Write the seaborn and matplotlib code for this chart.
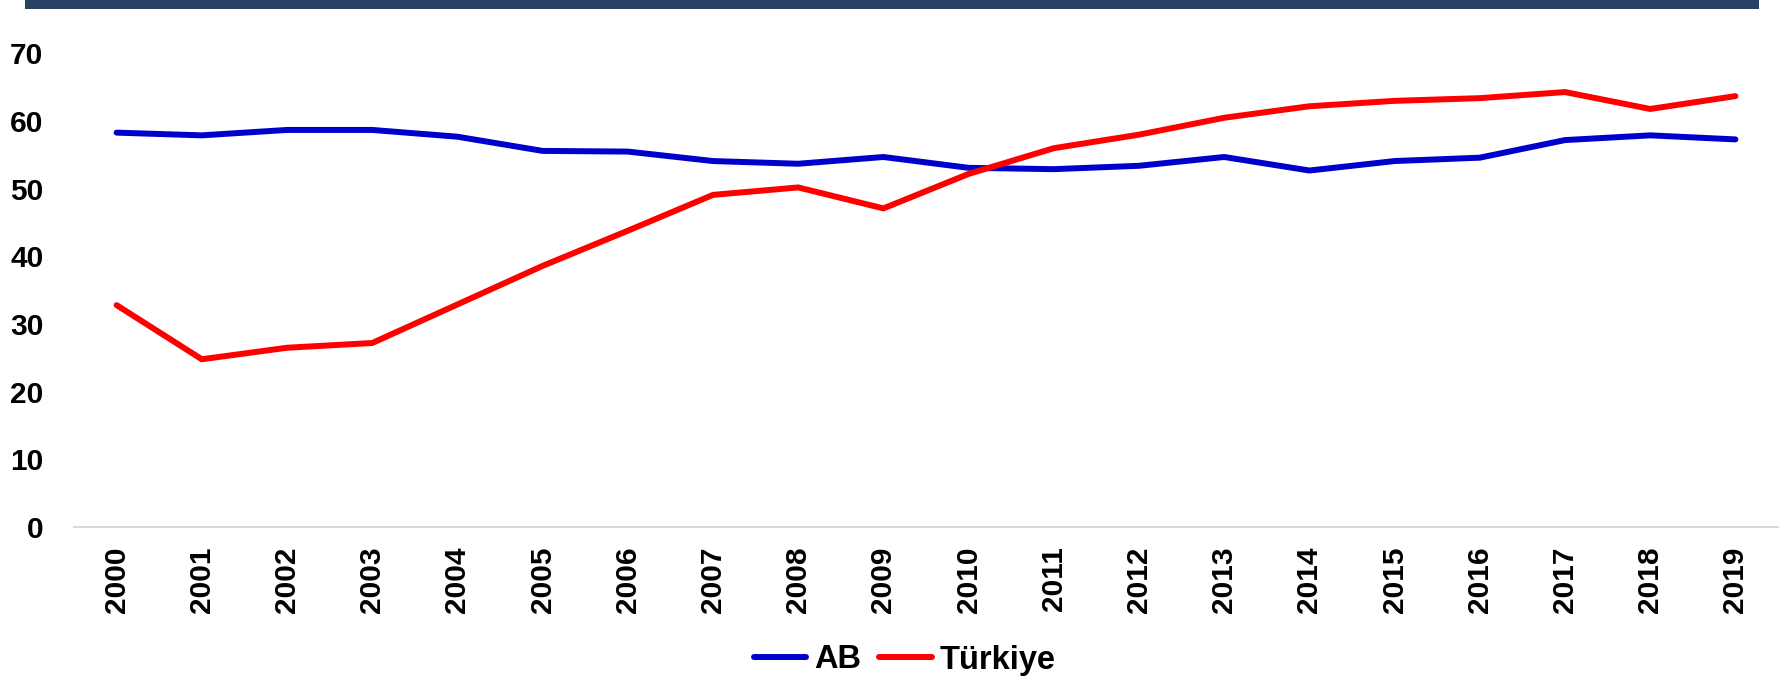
import matplotlib
matplotlib.use("Agg")
import matplotlib.pyplot as plt
import seaborn as sns
import pandas as pd
from matplotlib.patches import Rectangle

years = list(range(2000, 2020))
ab = [58.3, 57.9, 58.7, 58.7, 57.7, 55.6, 55.5, 54.1, 53.7, 54.7,
      53.1, 52.9, 53.4, 54.7, 52.7, 54.1, 54.6, 57.2, 57.9, 57.3]
turkiye = [32.8, 24.8, 26.5, 27.2, 32.9, 38.6, 43.8, 49.1, 50.2, 47.1,
           52.2, 56.0, 58.0, 60.5, 62.2, 63.0, 63.4, 64.3, 61.8, 63.7]
series_names = ["AB", "Türkiye"]
series_colors = ["#0000CC", "#FF0000"]
y_ticks = [0, 10, 20, 30, 40, 50, 60, 70]

df = pd.DataFrame({"Yıl": years * 2,
                   "Değer": ab + turkiye,
                   "Seri": [series_names[0]] * len(years) + [series_names[1]] * len(years)})

sns.set_theme(style="white")
plt.rcParams["font.family"] = ["Liberation Sans", "DejaVu Sans"]
plt.rcParams["font.weight"] = "bold"
plt.rcParams["text.color"] = "black"

fig = plt.figure(figsize=(17.85, 6.82), dpi=100)
ax = fig.add_axes([74 / 1785, 1 - 527 / 682, (1778 - 74) / 1785, (527 - 53.5) / 682])

sns.lineplot(data=df, x="Yıl", y="Değer", hue="Seri", palette=series_colors,
             linewidth=4.3, ax=ax, legend=False, solid_capstyle="round")

ax.set_xlim(years[0] - 0.5, years[-1] + 0.5)
ax.set_ylim(0, 70)
ax.set_xticks(years)
ax.set_xticklabels([str(y) for y in years], rotation=90, fontsize=21.5, fontweight="bold")
ax.set_yticks(y_ticks)
ax.set_yticklabels([str(v) for v in y_ticks], fontsize=21.5, fontweight="bold")
ax.tick_params(axis="both", length=0, colors="black")
ax.tick_params(axis="x", pad=14)
ax.tick_params(axis="y", pad=22)
ax.set_xlabel("")
ax.set_ylabel("")
for side in ["top", "right", "left"]:
    ax.spines[side].set_visible(False)
ax.spines["bottom"].set_color("#d9d9d9")
ax.spines["bottom"].set_linewidth(1.5)
ax.grid(False)

# Legend below the axis
handles = [plt.Line2D([], [], color=c, lw=4.3, solid_capstyle="round") for c in series_colors]
fig.legend(handles, series_names, loc="center", bbox_to_anchor=(0.507, 1 - 660 / 682),
           ncol=2, frameon=False, prop={"weight": "bold", "size": 23.5},
           labelcolor="black", handlelength=1.6, handletextpad=0.25, columnspacing=0.55)

# Dark header band across the top
fig.patches.append(Rectangle((25 / 1785, 1 - 9 / 682), (1759 - 25) / 1785, 9 / 682,
                             transform=fig.transFigure, facecolor="#294263",
                             edgecolor="none", zorder=5))

fig.savefig("out.png", dpi=100)
